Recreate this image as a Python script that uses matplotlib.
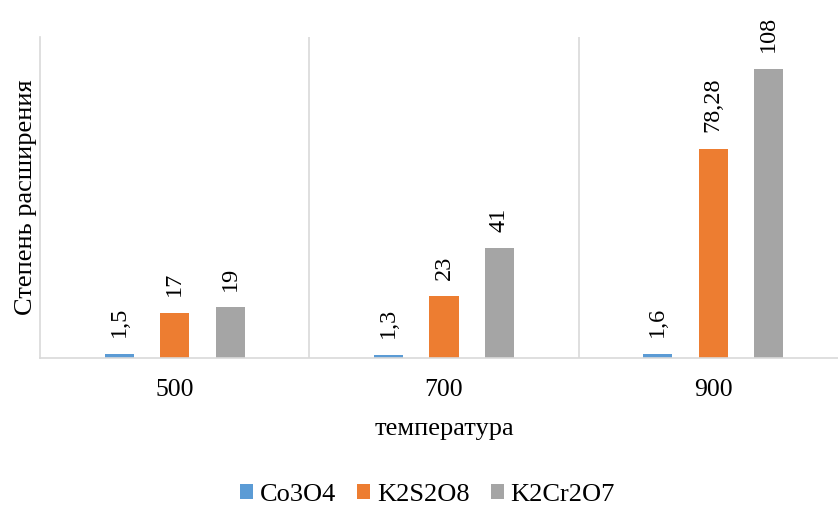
import matplotlib.pyplot as plt
import numpy as np

plt.rcParams['font.family'] = ['Liberation Serif', 'DejaVu Serif']

# данные
temps = ["500", "700", "900"]
series = ["Co3O4", "K2S2O8", "K2Cr2O7"]
co3o4 = [1.5, 1.3, 1.6]
k2s2o8 = [17, 23, 78.28]
k2cr2o7 = [19, 41, 108]
colors = ["#5B9BD5", "#ED7D31", "#A5A5A5"]

fig = plt.figure(figsize=(8.38, 5.09), dpi=100)
ax = fig.add_axes([40 / 838, 1 - 358 / 509, 808 / 838, 321 / 509])

x = np.arange(len(temps))
width = 0.108
offsets = [-0.206, 0, 0.206]

for vals, name, col, off in zip([co3o4, k2s2o8, k2cr2o7], series, colors, offsets):
    bars = ax.bar(x + off, vals, width, color=col, label=name)
    for b, v in zip(bars, vals):
        txt = f"{v:g}".replace(".", ",")
        ax.annotate(txt, (b.get_x() + b.get_width() / 2, b.get_height()),
                    xytext=(0, 12), textcoords="offset points",
                    rotation=90, ha="center", va="bottom", fontsize=17.5)

ax.set_xlim(-0.5, 2.5)
ax.set_ylim(0, 120)
ax.set_yticks([])
ax.set_xticks(x)
ax.set_xticklabels(temps, fontsize=18.5)
ax.set_xticks([0.5, 1.5], minor=True)
ax.tick_params(axis="x", which="both", length=0, pad=15)
ax.grid(axis="x", which="minor", color="#D9D9D9", linewidth=1.2)

for s in ["top", "right"]:
    ax.spines[s].set_visible(False)
ax.spines["bottom"].set_color("#D9D9D9")
ax.spines["bottom"].set_linewidth(1.2)
ax.spines["left"].set_color("#D9D9D9")
ax.spines["left"].set_linewidth(1.2)

ax.set_xlabel("температура", fontsize=19, labelpad=12)
ax.set_ylabel("Степень расширения", fontsize=19, labelpad=2)

fig.legend(loc="center", bbox_to_anchor=(0.51, 1 - 495 / 509), ncol=3, frameon=False,
           fontsize=19, handlelength=0.5, handleheight=0.5, columnspacing=0.8,
           handletextpad=0.25, borderaxespad=0, borderpad=0)

fig.savefig("out.png", dpi=100)
